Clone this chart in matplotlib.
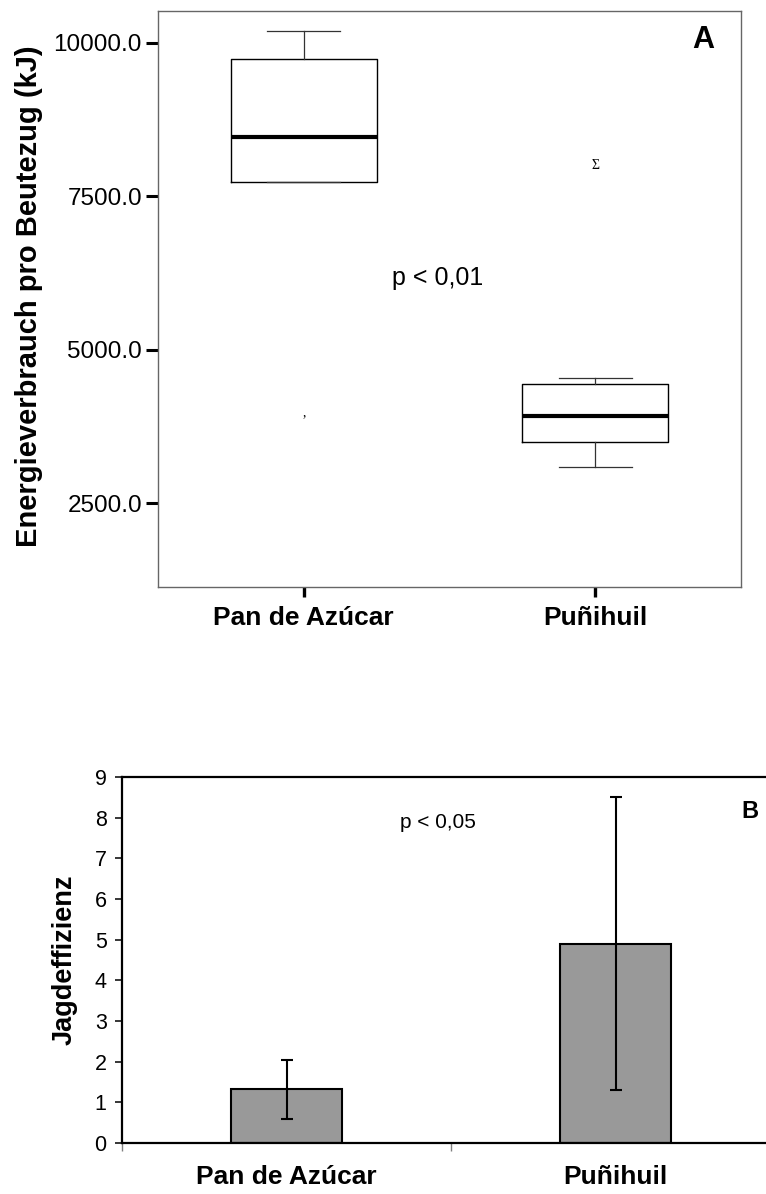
"""
Zwei Panels: (A) Boxplot Energieverbrauch pro Beutezug,
(B) Jagdeffizienz als Balken mit Fehlerbalken.
Speichert out.png
"""

import matplotlib
matplotlib.use('Agg')
import matplotlib.pyplot as plt
from matplotlib.ticker import FormatStrFormatter

plt.rcParams['font.family'] = ['Liberation Sans', 'DejaVu Sans']

GROUPS = ['Pan de Azúcar', 'Puñihuil']

# ── Panel A: Boxplot-Kennwerte (kJ) ──────────────────────────────────────────
BOX_WHISLO = [7733, 3084]
BOX_Q1     = [7733, 3506]
BOX_MED    = [8474, 3918]
BOX_Q3     = [9735, 4437]
BOX_WHISHI = [10189, 4540]
OUTLIER_Y    = [3980, 8010]
OUTLIER_MARK = [',', 'Σ']
A_YTICKS = [2500, 5000, 7500, 10000]

# ── Panel B: Jagdeffizienz ───────────────────────────────────────────────────
EFF_MEAN = [1.34, 4.90]
EFF_LOW  = [0.60, 1.31]
EFF_HIGH = [2.05, 8.50]

W, H = 766, 1194


def fig_rect(left, top, right, bottom):
    """Pixel-Rechteck -> figure-Koordinaten"""
    return [left / W, 1 - bottom / H, (right - left) / W, (bottom - top) / H]


# ── Panel A ──────────────────────────────────────────────────────────────────

def plot_box(fig):
    ax = fig.add_axes(fig_rect(158, 11, 741, 587))
    stats = []
    for i, name in enumerate(GROUPS):
        stats.append({'label': name, 'whislo': BOX_WHISLO[i], 'q1': BOX_Q1[i],
                      'med': BOX_MED[i], 'q3': BOX_Q3[i],
                      'whishi': BOX_WHISHI[i], 'fliers': []})
    ax.bxp(stats, positions=[1, 2], widths=0.5, capwidths=0.25,
           showfliers=False, patch_artist=False,
           boxprops=dict(color='black', linewidth=1.0),
           whiskerprops=dict(color='#333333', linewidth=0.9),
           capprops=dict(color='#333333', linewidth=0.9),
           medianprops=dict(color='black', linewidth=3.0))

    # Ausreißer-Symbole (wie im SPSS-Export)
    for x, y, m in zip([1, 2], OUTLIER_Y, OUTLIER_MARK):
        ax.text(x, y, m, ha='center', va='center', fontsize=10,
                family=['Liberation Serif', 'DejaVu Serif'])

    ax.set_xlim(0.5, 2.5)
    ax.set_ylim(1136, 10519)
    ax.set_yticks(A_YTICKS)
    ax.yaxis.set_major_formatter(FormatStrFormatter('%.1f'))
    ax.set_xticks([1, 2])
    ax.set_xticklabels(GROUPS, fontsize=19, fontweight='bold')
    ax.tick_params(axis='y', length=8.6, width=2.2, labelsize=17.5, pad=3,
                   color='black')
    ax.tick_params(axis='x', length=7.5, width=2.4, pad=6, color='black')
    for sp in ax.spines.values():
        sp.set_color('#666666')
        sp.set_linewidth(1.0)

    ax.set_ylabel('Energieverbrauch pro Beutezug (kJ)', fontsize=21,
                  fontweight='bold')
    ax.yaxis.set_label_coords(-0.198, 0.505)
    ax.text(1.458, 6168, 'p < 0,01', ha='center', va='center', fontsize=18)
    ax.text(0.935, 0.95, 'A', transform=ax.transAxes, ha='center',
            va='center', fontsize=22, fontweight='bold')


# ── Panel B ──────────────────────────────────────────────────────────────────

def plot_bars(fig):
    # rechter Rand liegt außerhalb des Bildes (wie im Original abgeschnitten)
    ax = fig.add_axes(fig_rect(122, 777, 780, 1143))
    x = [0, 1]
    yerr = [[m - lo for m, lo in zip(EFF_MEAN, EFF_LOW)],
            [hi - m for m, hi in zip(EFF_MEAN, EFF_HIGH)]]
    ax.bar(x, EFF_MEAN, width=0.337, color='#999999', edgecolor='black',
           linewidth=1.5, yerr=yerr, capsize=4.5,
           error_kw=dict(elinewidth=1.5, capthick=1.5, ecolor='black'))

    ax.set_xlim(-0.5, 1.5)
    ax.set_ylim(0, 9)
    ax.set_yticks(range(10))
    ax.tick_params(axis='y', length=5, width=1.1, labelsize=15.5, pad=6)

    ax.set_xticks([-0.5, 0.5, 1.5])
    ax.set_xticklabels([])
    ax.set_xticks(x, minor=True)
    ax.set_xticklabels(GROUPS, minor=True, fontsize=19, fontweight='bold')
    ax.tick_params(axis='x', which='major', length=6, width=1.0,
                   color='#808080')
    ax.tick_params(axis='x', which='minor', length=0, pad=16)

    for sp in ax.spines.values():
        sp.set_color('black')
        sp.set_linewidth(1.6)

    ax.set_ylabel('Jagdeffizienz', fontsize=19.5, fontweight='bold')
    ax.yaxis.set_label_coords(-0.068, 0.5)
    ax.text(0.459, 7.87, 'p < 0,05', ha='center', va='center', fontsize=15)
    ax.text(1.41, 8.14, 'B', ha='center', va='center', fontsize=17,
            fontweight='bold')


def main():
    fig = plt.figure(figsize=(W / 100, H / 100), dpi=100, facecolor='white')
    plot_box(fig)
    plot_bars(fig)
    fig.savefig('out.png', dpi=100, facecolor='white')
    plt.close(fig)


if __name__ == '__main__':
    main()
